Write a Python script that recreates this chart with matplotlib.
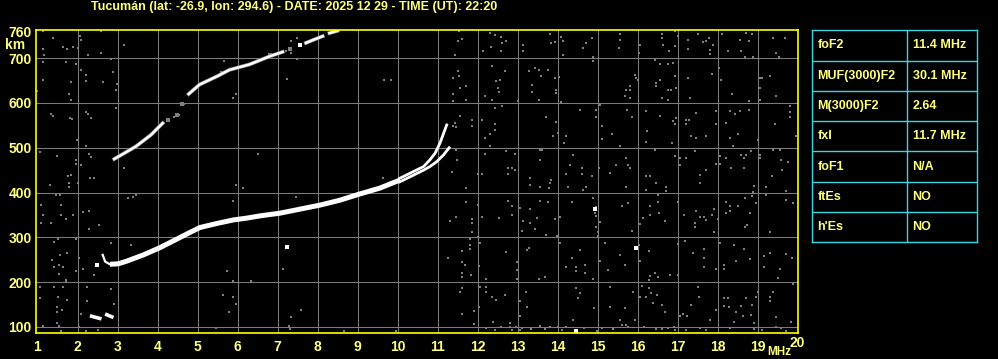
import numpy as np
import matplotlib
matplotlib.use("Agg")
import matplotlib.pyplot as plt

# -----------------------------
# Figure size / colours
# -----------------------------
FIG_W_IN = 9.98
FIG_H_IN = 3.59
DPI = 100

YEL_TXT = '#ffff80'
YEL_AX = '#ffff00'
GRID = '#7c7c7c'
NOISE = '#808080'
CYAN = '#3ad6e6'

title = u'Tucum\u00e1n (lat: -26.9, lon: 294.6) - DATE: 2025 12 29 - TIME (UT): 22:20'

# -----------------------------
# Echo traces (MHz, km)
# -----------------------------
f_trace_main = [2.81, 3.02, 3.23, 3.65, 4.06, 4.48, 4.81, 5.06, 5.48, 5.9, 6.23,
                6.56, 7.06, 7.56, 8.06, 8.56, 9.06, 9.56, 10.06]
h_trace_main = [240, 241, 247, 261, 277, 296, 311, 322, 331, 339, 343,
                348, 354, 363, 372, 383, 397, 410, 428]

f_hook = [2.63, 2.69, 2.81]
h_hook = [261, 246, 240]

f_o_cusp = [10.06, 10.4, 10.65, 10.81, 10.94, 11.06, 11.23]
h_o_cusp = [432, 447, 458, 473, 488, 510, 551]

f_x_cusp = [10.06, 10.4, 10.65, 10.81, 10.98, 11.15, 11.29]
h_x_cusp = [424, 439, 450, 458, 469, 484, 500]

f_es_a = [2.31, 2.6]
h_es_a = [125, 118]
f_es_b = [2.69, 2.9]
h_es_b = [129, 121]

# second hop F trace, in pieces
f_2f_a = [2.92, 3.46, 3.84, 4.13]
h_2f_a = [475, 503, 529, 555]
f_2f_b = [4.78, 5.05, 5.5, 5.8, 6.3, 6.8, 7.13]
h_2f_b = [620, 641, 660, 674, 686, 704, 714]
f_2f_c = [7.71, 7.9, 8.13]
h_2f_c = [734, 741, 749]
f_2f_d = [8.3, 8.5]
h_2f_d = [756, 761]

white_dots = [(2.48, 238), (7.23, 278), (7.55, 730), (14.93, 363), (15.97, 276), (14.45, 90)]
grey_bits = [(4.48, 573), (4.25, 562), (4.6, 598), (5.62, 668), (7.3, 720), (6.8, 708)]

# background noise (MHz, km)
noise = [
    (11.53, 761), (11.51, 739), (11.62, 743), (11.43, 708), (12.32, 756), (12.43, 751),
    (12.59, 747), (12.72, 739), (12.62, 734), (12.59, 717), (12.13, 717), (12.34, 724),
    (13.13, 730), (13.13, 717), (13.8, 753), (13.84, 734), (13.93, 736), (14.09, 747),
    (14.13, 738), (14.13, 708), (14.63, 723), (14.72, 734), (14.87, 744), (14.88, 702),
    (14.88, 693), (15.55, 753), (15.57, 741), (15.53, 723), (16.05, 730), (16.03, 712),
    (16.62, 755), (16.62, 745), (16.63, 730), (16.78, 717), (16.93, 761), (16.93, 727),
    (17.01, 749), (17.26, 741), (17.26, 721), (17.51, 753), (17.63, 736), (17.72, 738),
    (17.78, 745), (17.8, 719), (17.82, 709), (17.88, 729), (18.12, 753), (18.27, 717),
    (18.57, 741), (18.58, 717), (18.72, 756), (18.78, 738), (18.87, 753), (18.68, 703),
    (18.88, 703), (19.38, 745), (19.47, 712), (19.53, 703), (19.68, 744),
    (11.38, 656), (11.51, 671), (11.53, 660), (11.72, 637), (11.57, 633), (11.38, 621),
    (11.38, 604), (11.72, 607), (12.37, 682), (12.47, 650), (12.57, 651), (12.68, 671),
    (12.51, 633), (12.53, 625), (12.18, 615), (12.37, 607), (13.28, 671), (13.43, 678),
    (13.53, 674), (13.58, 661), (13.77, 674), (13.93, 656), (13.37, 641), (13.37, 624),
    (13.53, 607), (13.95, 630), (13.97, 622), (14.03, 659), (13.02, 605), (14.08, 602),
    (15.93, 663), (15.97, 656), (16.02, 652), (15.82, 639), (15.82, 630), (15.72, 630),
    (15.68, 615), (15.82, 611), (16.43, 697), (16.57, 686), (16.57, 651), (16.47, 645),
    (16.47, 637), (16.77, 688), (16.88, 689), (16.94, 660), (16.95, 633), (16.77, 630),
    (16.84, 630), (16.62, 611), (16.77, 607), (17.26, 656), (17.32, 611), (17.87, 665),
    (18.03, 678), (18.09, 652), (18.37, 620), (18.78, 605), (19.07, 656), (19.12, 656),
    (19.07, 633), (19.07, 607), (19.32, 660), (19.47, 615),
    (11.38, 548), (11.43, 555), (11.47, 546), (11.57, 572), (11.87, 563), (11.87, 548),
    (12.12, 563), (12.18, 522), (12.32, 531), (12.32, 505), (12.43, 589), (12.62, 593),
    (12.43, 552), (12.43, 540), (13.72, 568), (13.97, 558), (14.01, 533), (13.88, 526),
    (14.15, 511), (14.22, 526), (14.57, 585), (14.95, 585), (14.97, 568), (15.07, 595),
    (15.12, 548), (15.12, 520), (15.37, 531), (15.57, 505), (15.73, 585), (15.87, 568),
    (16.22, 581), (16.23, 537), (16.22, 514), (16.55, 570), (16.88, 559), (16.93, 552),
    (16.97, 566), (16.87, 511), (17.2, 563), (17.28, 563), (17.22, 552), (17.47, 578),
    (17.34, 526), (17.47, 522), (17.72, 526), (17.97, 581), (17.97, 552), (18.22, 555),
    (18.32, 581), (18.43, 575), (18.57, 581), (18.78, 585), (18.51, 531), (18.32, 522),
    (18.38, 505), (19.82, 593), (19.82, 580), (19.82, 568), (19.43, 553), (19.01, 518),
    (19.97, 526),
    (11.47, 496), (11.48, 473), (11.37, 446), (12.18, 486), (12.01, 442), (12.12, 442),
    (12.72, 492), (12.93, 486), (12.76, 455), (12.87, 455), (12.93, 451), (12.76, 442),
    (13.55, 496), (13.62, 496), (13.57, 473), (13.32, 433), (13.84, 429), (14.38, 483),
    (14.32, 462), (14.22, 442), (14.62, 455), (14.62, 442), (14.87, 438), (15.03, 455),
    (15.3, 444), (15.47, 461), (15.72, 477), (15.76, 461), (15.82, 455), (16.22, 436),
    (16.32, 438), (16.43, 496), (16.93, 481), (17.07, 477), (17.22, 477), (17.07, 462),
    (17.43, 492), (17.72, 451), (17.57, 440), (17.97, 464), (18.07, 481), (18.07, 464),
    (18.22, 477), (18.34, 455), (18.59, 485), (18.65, 477), (18.72, 483), (18.84, 492),
    (18.65, 455), (19.07, 485), (19.07, 477), (19.38, 496), (19.57, 496), (19.59, 473),
    (19.76, 468), (19.62, 451), (19.37, 438),
    (11.72, 410), (13.32, 417), (13.57, 412), (13.82, 422), (13.78, 410), (14.26, 413),
    (14.72, 412), (14.63, 406), (15.72, 413), (16.22, 406), (16.47, 421), (16.7, 412),
    (16.72, 404), (17.57, 422), (18.9, 415), (18.88, 402), (19.22, 413), (19.72, 404),
    (11.72, 378), (12.01, 372), (12.12, 346), (11.87, 340), (11.87, 333), (11.47, 346),
    (11.32, 337), (11.87, 311), (12.01, 300), (12.53, 343), (12.76, 382), (12.87, 369),
    (12.87, 350), (13.05, 365), (13.32, 363), (13.13, 337), (13.12, 315), (13.32, 333),
    (13.48, 343), (13.43, 318), (13.72, 305), (13.57, 382), (13.76, 378), (13.93, 340),
    (13.98, 302), (14.07, 346), (14.37, 378), (14.88, 387), (14.95, 367), (14.93, 355),
    (14.97, 348), (14.97, 324), (15.01, 313), (15.01, 302), (15.07, 335), (15.62, 369),
    (15.76, 376), (15.87, 315), (16.07, 329), (16.13, 343), (16.32, 369), (16.32, 350),
    (16.51, 378), (16.52, 395), (16.68, 337), (16.53, 354), (17.02, 378), (17.17, 351),
    (17.43, 333), (17.43, 324), (17.47, 360), (17.57, 346), (17.67, 345), (17.72, 339),
    (17.87, 350), (17.92, 363), (17.92, 311), (18.01, 340), (18.22, 378), (18.32, 369),
    (18.32, 360), (18.22, 355), (18.51, 369), (18.68, 389), (18.68, 324), (18.73, 328),
    (18.8, 355), (18.87, 392), (18.97, 376), (19.22, 395), (19.32, 311), (19.72, 383),
    (19.88, 376),
    (11.82, 296), (11.82, 283), (11.82, 273), (11.62, 270), (11.27, 255), (12.03, 236),
    (12.07, 287), (11.62, 244), (11.68, 238), (11.62, 220), (11.62, 211), (11.84, 216),
    (12.22, 208), (12.72, 268), (13.23, 272), (13.28, 276), (12.98, 246), (12.98, 227),
    (12.98, 208), (13.53, 208), (13.68, 212), (14.07, 288), (14.22, 235), (14.37, 255),
    (14.47, 233), (14.47, 226), (14.57, 272), (14.68, 238), (14.68, 220), (14.88, 208),
    (15.05, 248), (15.18, 288), (15.26, 227), (15.55, 261), (15.68, 238), (16.03, 283),
    (16.07, 248), (16.28, 270), (16.32, 214), (16.28, 205), (16.43, 221), (16.51, 211),
    (16.82, 216), (17.02, 285), (17.02, 216), (17.18, 293), (17.38, 266), (17.67, 273),
    (17.67, 253), (17.67, 235), (17.97, 229), (18.07, 288), (18.17, 238), (18.17, 229),
    (18.42, 283), (18.47, 248), (18.65, 273), (18.82, 251), (19.17, 258), (19.17, 233),
    (19.32, 266), (19.51, 209), (19.57, 229), (19.72, 264), (19.87, 255),
    (11.62, 186), (11.57, 177), (12.07, 189), (12.22, 189), (12.22, 178), (12.37, 168),
    (12.47, 160), (12.68, 171), (12.03, 144), (11.92, 136), (11.62, 130), (11.9, 107),
    (12.38, 112), (12.59, 101), (12.43, 93), (12.8, 101), (12.82, 108), (12.87, 93),
    (12.97, 101), (13.05, 93), (13.05, 125), (13.22, 177), (13.23, 144), (13.07, 157),
    (13.34, 95), (13.55, 102), (13.68, 95), (13.8, 101), (14.01, 101), (14.22, 101),
    (14.38, 116), (14.47, 186), (14.51, 164), (14.57, 175), (14.65, 97), (14.9, 142),
    (14.98, 90), (15.3, 189), (15.32, 144), (15.38, 95), (15.55, 116), (15.62, 104),
    (15.68, 143), (15.72, 104), (15.77, 101), (15.88, 177), (15.93, 116), (16.07, 166),
    (16.12, 191), (16.15, 101), (16.22, 168), (16.28, 186), (16.34, 175), (16.38, 154),
    (16.45, 95), (16.48, 171), (16.62, 148), (16.68, 133), (16.76, 97), (16.93, 93),
    (17.05, 125), (17.13, 130), (17.23, 125), (17.34, 149), (17.22, 93), (17.52, 190),
    (17.53, 166), (17.57, 97), (17.82, 116), (17.97, 138), (18.15, 164), (18.26, 164),
    (18.17, 147), (18.28, 145), (18.47, 134), (18.4, 112), (18.59, 147), (18.63, 125),
    (18.72, 164), (18.84, 127), (18.92, 108), (18.87, 149), (18.97, 168), (19.01, 178),
    (19.3, 168), (19.3, 157), (19.38, 179), (19.47, 123), (19.45, 101), (19.59, 97),
    (19.84, 112), (19.88, 197), (13.1, 97), (14.1, 93), (15.1, 97), (16.6, 95), (17.7, 93),
    (18.3, 97), (19.1, 93), (19.7, 92), (12.2, 97), (16.9, 101), (18.9, 95),
    (1.13, 760), (1.38, 744), (2.05, 749), (2.09, 741), (2.0, 723), (2.25, 706),
    (2.59, 760), (3.17, 730), (2.59, 712), (1.63, 726), (1.73, 721), (1.88, 724),
    (1.13, 721), (1.17, 708), (1.13, 692), (1.7, 692), (1.95, 686), (2.09, 674),
    (2.21, 663), (2.2, 650), (1.84, 647), (1.13, 652), (2.63, 647), (2.88, 669),
    (2.98, 642), (2.95, 630), (1.78, 620), (1.84, 607), (2.96, 589), (0.98, 626),
    (1.34, 575), (1.38, 572), (1.8, 567), (1.86, 565), (2.2, 580), (2.25, 575),
    (2.34, 567), (1.98, 518), (2.2, 503), (1.06, 491), (1.48, 482), (1.95, 473),
    (2.09, 461), (1.96, 464), (2.28, 486), (2.34, 479), (3.15, 455), (1.84, 440),
    (1.75, 436), (2.3, 433), (2.42, 433), (2.84, 699), (6.5, 486), (7.23, 654),
    (9.67, 652), (9.84, 652), (9.63, 433), (5.96, 620), (5.88, 611), (4.67, 598),
    (4.42, 568), (4.53, 574), (5.67, 693), (7.49, 745), (7.49, 698), (7.2, 715),
    (7.34, 738), (7.34, 712),
    (1.3, 417), (1.78, 422), (1.78, 413), (2.0, 422), (1.45, 395), (1.55, 395),
    (1.09, 372), (1.59, 372), (1.13, 350), (1.59, 350), (1.88, 350), (2.13, 357),
    (2.28, 360), (1.7, 340), (1.09, 333), (1.34, 333), (2.53, 328), (2.28, 318),
    (1.4, 290), (1.5, 296), (1.95, 296), (2.84, 288), (3.34, 283), (1.73, 266),
    (2.03, 255), (1.55, 261), (1.36, 250), (1.42, 233), (1.53, 238), (1.63, 233),
    (1.95, 226), (2.13, 229), (2.42, 216), (1.53, 218), (1.7, 206), (1.7, 201),
    (1.4, 190), (1.63, 190), (1.05, 190), (2.23, 189), (2.84, 184), (1.05, 164),
    (1.5, 166), (1.73, 160), (1.48, 145), (1.61, 139), (1.48, 134), (2.23, 157),
    (2.9, 151), (2.09, 130), (1.48, 110), (1.13, 102), (1.53, 102), (1.59, 92),
    (2.03, 101), (2.2, 90), (2.5, 93), (3.25, 387), (3.38, 391), (3.45, 395),
    (6.13, 410), (5.96, 417), (5.88, 382), (7.45, 391), (5.73, 226), (5.88, 203),
    (6.34, 203), (7.13, 229), (5.63, 171), (5.88, 166), (5.96, 151), (5.78, 134),
    (7.59, 138), (7.34, 122), (7.28, 102), (7.3, 95), (5.45, 97), (8.67, 92), (9.96, 90),
]

x_ticks = list(range(1, 21))
y_ticks = [100, 200, 300, 400, 500, 600, 700, 760]

# -----------------------------
# Parameter table
# -----------------------------
param_names = ['foF2', 'MUF(3000)F2', 'M(3000)F2', 'fxI', 'foF1', 'ftEs', "h'Es"]
param_values = ['11.4 MHz', '30.1 MHz', '2.64', '11.7 MHz', 'N/A', 'NO', 'NO']

plt.rcParams.update({
    'font.family': ['Liberation Sans', 'DejaVu Sans'],
    'font.weight': 'bold',
    'font.size': 9,
})

fig = plt.figure(figsize=(FIG_W_IN, FIG_H_IN), dpi=DPI, facecolor='black')
ax = fig.add_axes([36 / 998, 26 / 359, 762 / 998, 303.5 / 359])
ax.set_facecolor('black')

ax.set_xlim(0.9625, 20.0125)
ax.set_ylim(86.6, 764)

# grid
for f in range(2, 20):
    ax.axvline(f, color=GRID, lw=0.75, zorder=1)
for h in range(100, 800, 100):
    ax.axhline(h, color=GRID, lw=0.75, zorder=1)

# noise
nf = [p[0] for p in noise]
nh = [p[1] for p in noise]
ax.scatter(nf, nh, s=3.6, marker='s', color=NOISE, linewidths=0, zorder=2)
gf = [p[0] for p in grey_bits]
gh = [p[1] for p in grey_bits]
ax.scatter(gf, gh, s=5, marker='s', color=NOISE, linewidths=0, zorder=2)

# traces
ax.plot(f_trace_main, h_trace_main, color='white', lw=3.6, solid_capstyle='butt', zorder=4)
ax.plot(f_hook, h_hook, color='white', lw=1.6, zorder=4)
ax.plot(f_o_cusp, h_o_cusp, color='white', lw=2.0, zorder=4)
ax.plot(f_x_cusp, h_x_cusp, color='white', lw=2.0, zorder=4)
ax.plot(f_es_a, h_es_a, color='white', lw=2.6, solid_capstyle='butt', zorder=4)
ax.plot(f_es_b, h_es_b, color='white', lw=2.6, solid_capstyle='butt', zorder=4)
for fs, hs in [(f_2f_a, h_2f_a), (f_2f_b, h_2f_b), (f_2f_c, h_2f_c), (f_2f_d, h_2f_d)]:
    ax.plot(fs, hs, color=NOISE, lw=2.8, zorder=3)
    ax.plot(fs, hs, color='white', lw=1.8, zorder=4)
wf = [p[0] for p in white_dots]
wh = [p[1] for p in white_dots]
ax.scatter(wf, wh, s=5, marker='s', color='white', linewidths=0, zorder=4)

# axes styling
for sp in ax.spines.values():
    sp.set_color(YEL_AX)
    sp.set_linewidth(1.2)
    sp.set_zorder(5)
ax.set_xticks(x_ticks)
ax.set_xticklabels([str(t) for t in x_ticks])
ax.set_yticks(y_ticks)
ax.set_yticklabels([str(t) for t in y_ticks])
ax.tick_params(length=0, colors=YEL_TXT, labelsize=10, pad=3)
ax.tick_params(axis='x', pad=5)
for lbl in ax.get_xticklabels() + ax.get_yticklabels():
    lbl.set_fontweight('bold')
# last x label sits a little higher, beside the unit
ax.get_xticklabels()[-1].set_y(0.012)

fig.text(5 / 998, 1 - 45 / 359, 'km', color=YEL_TXT, fontsize=10, fontweight='bold',
         ha='left', va='center')
fig.text(767 / 998, 1 - 352 / 359, 'MHz', color=YEL_TXT, fontsize=8.5, fontweight='bold',
         ha='left', va='center')
fig.text(294 / 998, 1 - 7 / 359, title, color=YEL_TXT, fontsize=9, fontweight='bold',
         ha='center', va='center')

# table
tax = fig.add_axes([812.3 / 998, (359 - 242.3) / 359, 165 / 998, 212 / 359])
tax.set_xlim(0, 1)
tax.set_ylim(len(param_names), 0)
tax.set_facecolor('black')
tax.set_xticks([])
tax.set_yticks([])
for sp in tax.spines.values():
    sp.set_color(CYAN)
    sp.set_linewidth(1.0)
for i in range(1, len(param_names)):
    tax.axhline(i, color=CYAN, lw=1.0)
tax.axvline(0.576, color=CYAN, lw=1.0)
for i, (name, val) in enumerate(zip(param_names, param_values)):
    tax.text(0.03, i + 0.5, name, color=YEL_TXT, fontsize=9, fontweight='bold',
             ha='left', va='center')
    tax.text(0.608, i + 0.5, val, color=YEL_TXT, fontsize=9, fontweight='bold',
             ha='left', va='center')

fig.savefig('out.png', dpi=DPI, facecolor='black')
